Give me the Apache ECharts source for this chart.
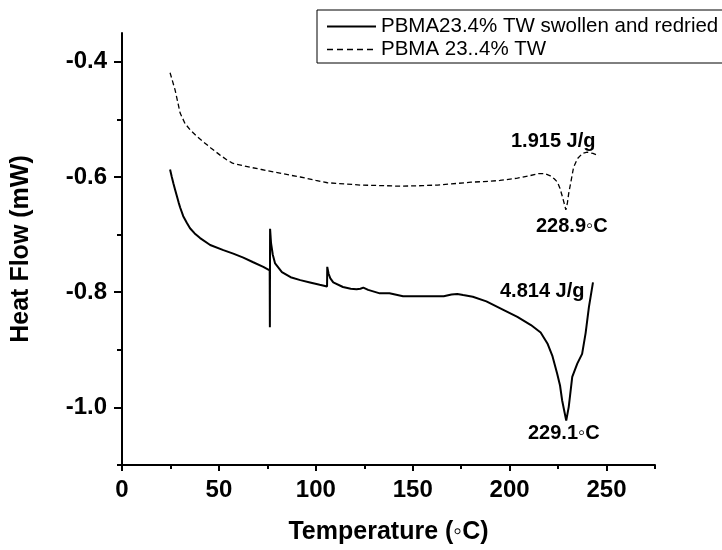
<!DOCTYPE html>
<html>
<head>
<meta charset="utf-8">
<script src="https://cdn.jsdelivr.net/npm/echarts@6/dist/echarts.min.js"></script>
<style>
html, body { margin: 0; padding: 0; background: #fff; }
#chart { width: 722px; height: 550px; }
</style>
</head>
<body>
<div id="chart"></div>
<script>
// series names
var seriesNames = ['PBMA23.4% TW swollen and redried', 'PBMA 23..4% TW'];

// swollen and redried (solid)
var solidT = [24.8, 25.7, 26.5, 27.4, 28.3, 29.2, 30, 31.6, 33.5, 35.1, 37.5, 40.3, 45.5, 52.3, 57.4, 62.6, 67.7, 72.9, 76.2,
    76.3, 76.4, 76.9, 77.8, 79, 82.5, 87, 92, 97, 102, 105.8,
    105.9, 106.6, 107.5, 109, 114, 118, 121, 123, 124.5, 127, 133, 138, 145, 155, 166, 170, 173, 176, 181,
    188, 197, 204, 211, 216, 219.5, 222, 224.5, 226, 227.1, 228.3, 229.2, 230.5, 232.3, 234.9, 237.4,
    239.2, 240.9, 243];
var solidHF = [-0.587, -0.600, -0.611, -0.622, -0.633, -0.644, -0.653, -0.668, -0.680, -0.689, -0.698, -0.706, -0.718, -0.727, -0.733, -0.740, -0.748, -0.756, -0.762,
    -0.861, -0.690, -0.715, -0.735, -0.750, -0.765, -0.774, -0.779, -0.783, -0.787, -0.790,
    -0.756, -0.768, -0.776, -0.783, -0.791, -0.794, -0.795, -0.794, -0.792, -0.796, -0.802, -0.802, -0.807, -0.807, -0.807, -0.804, -0.803, -0.805, -0.808,
    -0.816, -0.831, -0.843, -0.857, -0.870, -0.889, -0.910, -0.941, -0.962, -0.988, -1.008, -1.023, -0.999, -0.947, -0.924, -0.907,
    -0.871, -0.826, -0.783];

// original sample (dashed)
var dashT = [24.8, 27.4, 30, 32.5, 35.1, 38.5, 42, 46, 50.6, 54, 57, 62, 66, 72, 78, 87, 92, 100, 106, 115, 123, 135,
    143.6, 155, 162.7, 170, 180, 186.5, 195, 204, 210, 215, 218, 221, 223, 224.7, 226, 227.3, 228.4, 229,
    229.8, 230.5, 231.8, 233, 235, 237.6, 240, 243, 246];
var dashHF = [-0.419, -0.449, -0.489, -0.507, -0.518, -0.529, -0.539, -0.550, -0.562, -0.570, -0.576, -0.580, -0.583, -0.587, -0.591, -0.597, -0.600, -0.606, -0.610, -0.612, -0.614, -0.615,
    -0.616, -0.615, -0.614, -0.612, -0.609, -0.608, -0.606, -0.602, -0.598, -0.594, -0.594, -0.598, -0.603, -0.609, -0.620, -0.635, -0.649, -0.657,
    -0.645, -0.628, -0.605, -0.583, -0.568, -0.559, -0.557, -0.559, -0.563];

// ticks
var xMajorTicks = [0, 50, 100, 150, 200, 250];
var xMinorTicks = [25, 75, 125, 175, 225, 275];
var yMajorTicks = [-1.0, -0.8, -0.6, -0.4];
var yMinorTicks = [-1.1, -0.9, -0.7, -0.5];

// annotations
var noteTexts = ['1.915 J/g', '228.9\u25E6C', '4.814 J/g', '229.1\u25E6C'];

function pairs(xs, ys) {
    var out = [];
    for (var i = 0; i < xs.length; i++) out.push([xs[i], ys[i]]);
    return out;
}

var font = "'Liberation Sans', Arial, sans-serif";
var axisLine = { show: true, lineStyle: { color: '#000', width: 2 } };

var myChart = echarts.init(document.getElementById('chart'));
var option = {
    animation: false,
    backgroundColor: '#fff',
    grid: { left: 122, right: 67, top: 33, bottom: 84 },
    legend: {
        left: 317,
        top: 10,
        orient: 'vertical',
        data: [
            { name: seriesNames[0] },
            { name: seriesNames[1], lineStyle: { type: [6, 4], width: 1.3 } }
        ],
        itemWidth: 49,
        itemHeight: 20,
        itemGap: 2,
        padding: [6, 12, 3, 9],
        borderColor: '#000',
        borderWidth: 1,
        itemStyle: { opacity: 0 },
        textStyle: { fontFamily: font, fontSize: 20.5, color: '#000', lineHeight: 20 }
    },
    xAxis: [{
        type: 'value',
        min: 0,
        max: 275,
        name: 'Temperature (\u25E6C)',
        nameLocation: 'middle',
        nameGap: 55,
        nameTextStyle: { fontFamily: font, fontSize: 25, fontWeight: 'bold', color: '#000' },
        axisLine: axisLine,
        axisTick: { show: true, customValues: xMajorTicks, length: 6, lineStyle: { color: '#000', width: 2 } },
        axisLabel: { customValues: xMajorTicks, fontFamily: font, fontSize: 24, fontWeight: 'bold', color: '#000', margin: 13 },
        splitLine: { show: false }
    }, {
        type: 'value',
        min: 0,
        max: 275,
        position: 'bottom',
        axisLine: { show: false },
        axisTick: { show: true, customValues: xMinorTicks, length: 4, lineStyle: { color: '#000', width: 2 } },
        axisLabel: { show: false },
        splitLine: { show: false }
    }],
    yAxis: [{
        type: 'value',
        min: -1.1,
        max: -0.35,
        name: 'Heat Flow (mW)',
        nameLocation: 'middle',
        nameGap: 88,
        nameTextStyle: { fontFamily: font, fontSize: 25, fontWeight: 'bold', color: '#000' },
        axisLine: axisLine,
        axisTick: { show: true, customValues: yMajorTicks, length: 8, lineStyle: { color: '#000', width: 2 } },
        axisLabel: {
            customValues: yMajorTicks,
            fontFamily: font, fontSize: 24, fontWeight: 'bold', color: '#000', margin: 15,
            formatter: function (v) { return v.toFixed(1); }
        },
        splitLine: { show: false }
    }, {
        type: 'value',
        min: -1.1,
        max: -0.35,
        position: 'left',
        axisLine: { show: false },
        axisTick: { show: true, customValues: yMinorTicks, length: 5, lineStyle: { color: '#000', width: 2 } },
        axisLabel: { show: false },
        splitLine: { show: false }
    }],
    graphic: [
        { type: 'text', left: 511, top: 131, style: { text: noteTexts[0], fontFamily: font, fontSize: 20, fontWeight: 'bold', fill: '#000' } },
        { type: 'text', left: 536, top: 216, style: { text: noteTexts[1], fontFamily: font, fontSize: 20, fontWeight: 'bold', fill: '#000' } },
        { type: 'text', left: 500, top: 281, style: { text: noteTexts[2], fontFamily: font, fontSize: 20, fontWeight: 'bold', fill: '#000' } },
        { type: 'text', left: 528, top: 423, style: { text: noteTexts[3], fontFamily: font, fontSize: 20, fontWeight: 'bold', fill: '#000' } }
    ],
    series: [
        {
            name: seriesNames[0],
            type: 'line',
            data: pairs(solidT, solidHF),
            showSymbol: false,
            symbol: 'none',
            lineStyle: { color: '#000', width: 2 },
            itemStyle: { color: '#000' }
        },
        {
            name: seriesNames[1],
            type: 'line',
            data: pairs(dashT, dashHF),
            showSymbol: false,
            symbol: 'none',
            lineStyle: { color: '#000', width: 1.3, type: [5, 3] },
            itemStyle: { color: '#000' }
        }
    ]
};
myChart.setOption(option);
</script>
</body>
</html>
